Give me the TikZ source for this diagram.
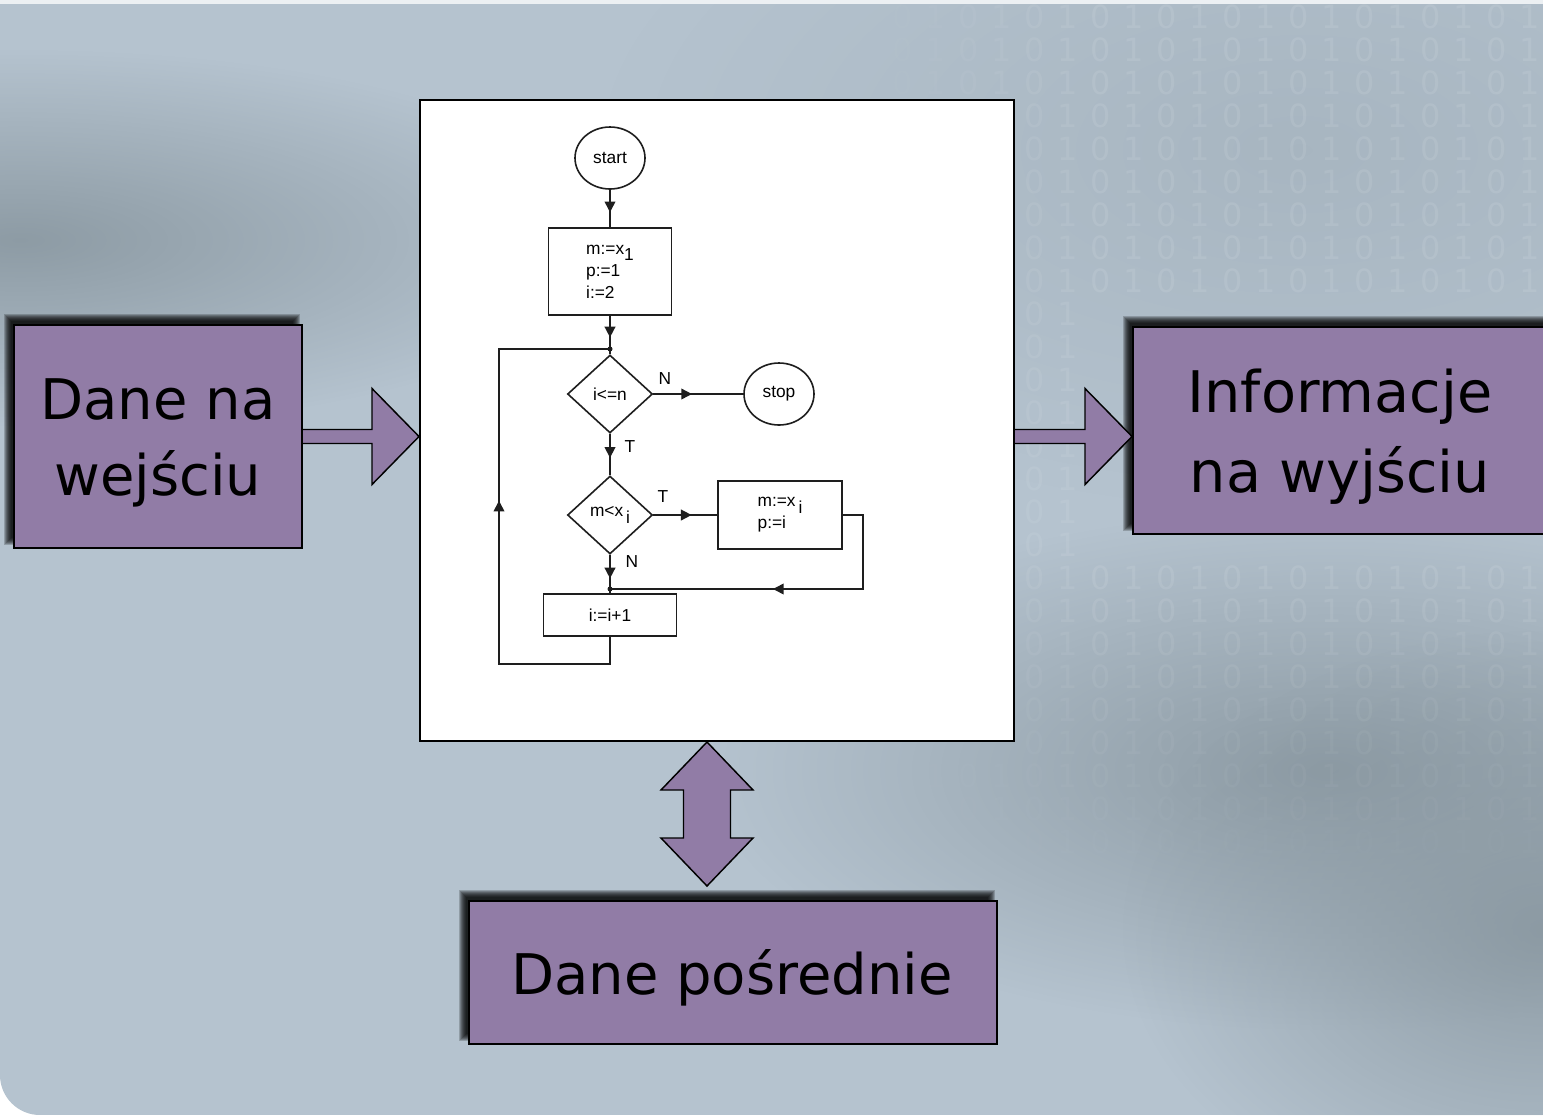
\documentclass[tikz,border=0pt]{standalone}
\usepackage{fontspec}
\setmainfont{DejaVu Sans}
\newfontfamily\chartfont{Liberation Sans}
\usetikzlibrary{calc,shapes.geometric,arrows.meta,decorations.markings,fadings}

\definecolor{slate}{RGB}{181,195,207}
\definecolor{slatedark}{RGB}{137,151,160}
\definecolor{boxpurple}{RGB}{145,124,166}
\definecolor{chartline}{RGB}{30,30,30}

\tikzset{every picture/.style={line width=0.75pt}}
\tikzfading[name=softspot, inner color=transparent!0, outer color=transparent!100]

\pgfdeclarelayer{back}
\pgfdeclarelayer{shade}
\pgfsetlayers{back,shade,main}

\begin{document}
\begin{tikzpicture}[x=0.75pt,y=0.75pt,yscale=-1,xscale=1,
  bigbox/.style={draw=black, line width=1.5pt, fill=boxpurple, inner sep=0pt},
  bigtext/.style={inner sep=0pt, align=center, font=\fontsize{42}{57}\selectfont},
  procbox/.style={draw=black, line width=1.5pt, fill=white, inner sep=0pt},
  blockarrow/.style={draw=black, line width=1.1pt, fill=boxpurple, line join=miter},
  terminal/.style={ellipse, draw=chartline, line width=1.2pt, inner sep=0pt, minimum width=52.5pt, minimum height=46.5pt, font=\chartfont\fontsize{13}{16.5}\selectfont},
  stepbox/.style={rectangle, draw=chartline, line width=1.2pt, inner sep=0pt, align=left, font=\chartfont\fontsize{13}{16.5}\selectfont},
  test/.style={diamond, draw=chartline, line width=1.2pt, inner sep=0pt, minimum width=63.75pt, minimum height=58.5pt, font=\chartfont\fontsize{13}{16.5}\selectfont},
  flag/.style={inner sep=0pt, font=\chartfont\fontsize{13}{16.5}\selectfont},
  flow/.style={draw=chartline, line width=1.2pt},
  midarrow/.style={decoration={markings, mark=at position #1 with {\arrow{Triangle[length=8pt,width=8pt]}}}, postaction={decorate}},
  bit/.style={inner sep=0pt, text=white, font=\fontsize{24}{24}\selectfont}
]
\useasboundingbox (0,0) rectangle (1543,1115);

% Slide background
\begin{pgfonlayer}{back}
\fill[white] (0,0) rectangle (1543,1115);
\begin{scope}
\clip (0,4) -- (1543,4) -- (1543,1115) [rounded corners=30pt] -- (0,1115) [sharp corners] -- cycle;
\fill[slate] (0,0) rectangle (1543,1115);
\fill[slatedark, path fading=softspot, fill opacity=0.9] (20,240) ellipse [x radius=600, y radius=190];
\fill[slatedark, path fading=softspot, fill opacity=0.3] (1300,150) ellipse [x radius=700, y radius=360];
\fill[slatedark, path fading=softspot, fill opacity=0.9] (1330,770) ellipse [x radius=620, y radius=260];
\fill[slatedark, path fading=softspot, fill opacity=0.9] (1543,930) ellipse [x radius=420, y radius=300];
% binary pattern
\foreach \r in {0,...,26}{
  \foreach \c in {0,...,20}{
    \pgfmathsetmacro\bx{870+33*\c}
    \pgfmathsetmacro\by{17+33*\r}
    \pgfmathtruncatemacro\digit{1-mod(\c,2)}
    \pgfmathsetmacro\bitop{0.09*min(1,max(0,(\bx-860)/240))*min(1,max(0,(900-\by)/320))}
    \pgfmathtruncatemacro\shown{(\bitop>0.004)*(1-and(\bx>1090,and(\by>300,\by<560)))*(1-and(\bx<1030,and(\by>85,\by<755)))}
    \ifnum\shown>0
      \node[bit, text opacity=\bitop] (bit-\r-\c) at (\bx,\by) {\digit};
    \fi
  }
}
\end{scope}
\fill[white!75!slate] (0,0) rectangle (1543,4);
\end{pgfonlayer}

% Processing box with the flowchart
\node[procbox, minimum width=445.5pt, minimum height=480.75pt] (proc) at (717,420.5) {};

% Data boxes
\node[bigbox, minimum width=216pt, minimum height=167.25pt] (inbox) at (158,436.5) {};
\node[bigtext] (inlabel) at (158,443) {Dane na\\wejściu};
\node[bigbox, minimum width=316.5pt, minimum height=155.25pt] (outbox) at (1344,430.5) {};
\node[bigtext, font=\fontsize{43}{60}\selectfont] (outlabel) at (1340,437) {Informacje\\na wyjściu};
\node[bigbox, minimum width=396pt, minimum height=107.25pt] (midbox) at (733,972.5) {};
\node[bigtext] (midlabel) at (732,977.5) {Dane pośrednie};

% Shadows of the data boxes
\begin{pgfonlayer}{shade}
\foreach \b in {inbox,outbox,midbox}{
  \foreach \k in {-3,...,4}{
    \fill[black, fill opacity=0.2] ($(\b.north west)+(-6+\k,-7+\k)$) rectangle ($(\b.south east)+(-6-\k,-7-\k)$);
  }
}
\end{pgfonlayer}

% Block arrows
\coordinate (inTip) at (proc.west |- inbox.east);
\draw[blockarrow] ($(inbox.east)+(0,-7)$) -- ($(inTip)+(-47,-7)$) -- ($(inTip)+(-47,-48)$) -- (inTip) -- ($(inTip)+(-47,48)$) -- ($(inTip)+(-47,7)$) -- ($(inbox.east)+(0,7)$);
\coordinate (outTip) at (outbox.west |- inTip);
\coordinate (outTail) at (proc.east |- inTip);
\draw[blockarrow] ($(outTail)+(0,-7)$) -- ($(outTip)+(-47,-7)$) -- ($(outTip)+(-47,-48)$) -- (outTip) -- ($(outTip)+(-47,48)$) -- ($(outTip)+(-47,7)$) -- ($(outTail)+(0,7)$);
\coordinate (upTip) at ($(proc.south)+(-10,0)$);
\coordinate (downTip) at ($(upTip)+(0,144)$);
\draw[blockarrow] (upTip) -- ($(upTip)+(46,48)$) -- ($(upTip)+(23.5,48)$) -- ($(downTip)+(23.5,-48)$) -- ($(downTip)+(46,-48)$) -- (downTip) -- ($(downTip)+(-46,-48)$) -- ($(downTip)+(-23.5,-48)$) -- ($(upTip)+(-23.5,48)$) -- ($(upTip)+(-46,48)$) -- cycle;

% Flowchart
\node[terminal] (start) at (610,158) {start};
\node[stepbox, minimum width=92.25pt, minimum height=65.25pt] (init) at (610,271.5) {m:=x\raisebox{-5pt}{1}\\p:=1\\i:=2};
\coordinate (loopin) at (610,349);
\node[test] (cond) at (610,394) {i<=n};
\node[terminal] (stop) at (779,394) {stop};
\node[test] (cmp) at (610,515) {m<x\,\raisebox{-5pt}{i}};
\node[stepbox, minimum width=93pt, minimum height=51pt] (update) at (780,515) {m:=x\,\raisebox{-5pt}{i}\\p:=i};
\coordinate (merge) at (610,589);
\node[stepbox, minimum width=99.75pt, minimum height=31.5pt] (incr) at (610,615) {i:=i+1};

\node[flag] (condN) at (665,379) {N};
\node[flag] (condT) at (630,447) {T};
\node[flag] (cmpT) at (663,497) {T};
\node[flag] (cmpN) at (632,562) {N};

\draw[flow, midarrow=0.6] (start) -- (init);
\draw[flow, midarrow=0.65] (init) -- (loopin);
\draw[flow] (loopin) -- (cond);
\draw[flow, midarrow=0.43] (cond) -- (stop);
\draw[flow, midarrow=0.58] (cond) -- (cmp);
\draw[flow, midarrow=0.6] (cmp) -- (update);
\draw[flow, midarrow=0.69] (cmp) -- (merge);
\draw[flow, midarrow=0.53] (update.east) -- ++(20,0) |- (merge);
\draw[flow] (merge) -- (incr);
\draw[flow, midarrow=0.534] (incr.south) -- ++(0,27) -- ++(-111,0) |- (loopin);
\fill[chartline] (loopin) circle (2.5);
\fill[chartline] (merge) circle (2.5);
\end{tikzpicture}
\end{document}
